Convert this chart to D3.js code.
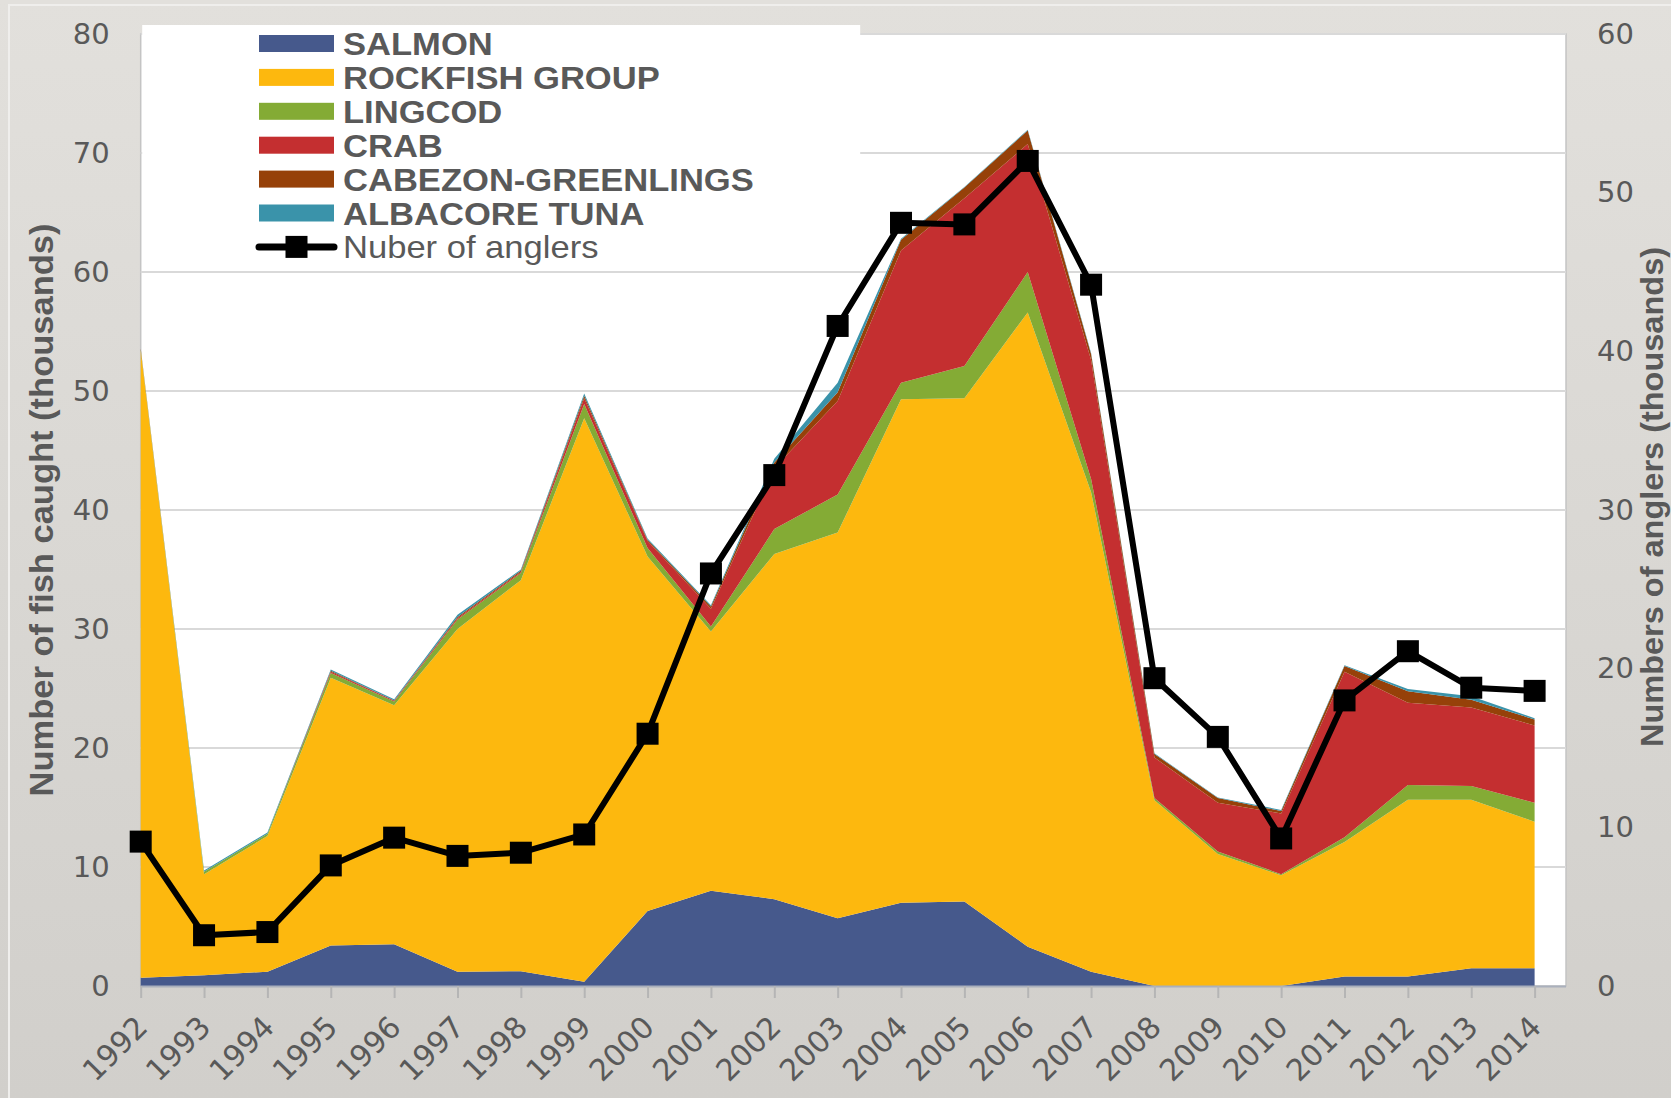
<!DOCTYPE html>
<html><head><meta charset="utf-8">
<script src="https://cdn.jsdelivr.net/npm/d3@7"></script>
<style>html,body{margin:0;padding:0;overflow:hidden;background:#d8d6d2;}</style>
</head><body>
<svg id="c" width="1671" height="1098"></svg>
<script>
const years = ["1992","1993","1994","1995","1996","1997","1998","1999","2000","2001","2002","2003","2004","2005","2006","2007","2008","2009","2010","2011","2012","2013","2014"];
const salmon   = [0.7,0.9,1.2,3.4,3.5,1.2,1.25,0.35,6.3,8.0,7.3,5.7,7.0,7.1,3.3,1.2,0,0,0,0.8,0.8,1.5,1.5];
const rockfish = [52.7,8.5,11.4,22.5,20.1,28.8,32.85,47.35,29.8,21.8,29.0,32.4,42.3,42.3,53.3,40.3,15.6,11.1,9.3,11.3,14.85,14.15,12.3];
const lingcod  = [0.1,0.2,0.2,0.4,0.3,0.8,0.6,1.2,0.7,0.4,2.1,3.2,1.4,2.7,3.4,1.1,0.2,0.2,0.1,0.4,1.25,1.15,1.6];
const crab     = [0,0,0,0.1,0.1,0.1,0.1,0.5,0.6,1.5,5.1,7.85,11.1,14.1,10.75,10.0,3.4,4.1,5.1,13.9,6.9,6.6,6.5];
const cabezon  = [0.1,0,0,0.1,0,0.1,0.1,0.2,0.1,0.2,0.5,0.75,0.9,0.9,1.15,0.5,0.3,0.4,0.2,0.5,0.96,0.66,0.5];
const albacore = [0,0.1,0.1,0.1,0.1,0.2,0.1,0.2,0.1,0.1,0.3,0.8,0.1,0.05,0.05,0.1,0.05,0.05,0.1,0.05,0.2,0.28,0.1];
const anglers  = [9.1,3.2,3.4,7.6,9.35,8.2,8.4,9.55,15.9,26.0,32.2,41.6,48.1,48.0,52.0,44.2,19.4,15.7,9.3,18.0,21.1,18.8,18.6];
const seriesNames = ["SALMON","ROCKFISH GROUP","LINGCOD","CRAB","CABEZON-GREENLINGS","ALBACORE TUNA"];
const seriesColors = ["#46598C","#FDB80E","#84AB35","#C42F30","#964109","#3A93AA"];
const lineName = "Nuber of anglers";
const leftTicks = [0,10,20,30,40,50,60,70,80];
const rightTicks = [0,10,20,30,40,50,60];
const leftTitle = "Number of fish caught (thousands)";
const rightTitle = "Numbers of anglers (thousands)";

const seriesData = [salmon, rockfish, lingcod, crab, cabezon, albacore];
const rows = years.map((y,i)=>{const o={year:y}; seriesNames.forEach((n,k)=>o[n]=seriesData[k][i]); return o;});

const svg = d3.select("#c");
const defs = svg.append("defs");
const grad = defs.append("linearGradient").attr("id","bg").attr("x1",0).attr("y1",0).attr("x2",0).attr("y2",1);
grad.append("stop").attr("offset","0%").attr("stop-color","#e2e0dc");
grad.append("stop").attr("offset","100%").attr("stop-color","#d1cfcb");
svg.append("rect").attr("width",1671).attr("height",1098).attr("fill","url(#bg)");
svg.append("rect").attr("x",9).attr("y",5).attr("width",1671).attr("height",1100)
  .attr("fill","none").attr("stroke","#efeeec").attr("stroke-width",2);

const L=140.7, R=1566, T=34, B=986;
const x = d3.scalePoint().domain(years).range([140.7,1534.6]);
const yL = d3.scaleLinear().domain([0,80]).range([B,T]);
const yR = d3.scaleLinear().domain([0,60]).range([B,T]);

// plot area
svg.append("rect").attr("x",L).attr("y",T).attr("width",R-L).attr("height",B-T)
  .attr("fill","#fff").attr("stroke","#c4c4c4").attr("stroke-width",1.5);

// gridlines
svg.append("g").selectAll("line").data(leftTicks.filter(d=>d>0)).join("line")
  .attr("x1",L).attr("x2",R).attr("y1",d=>yL(d)).attr("y2",d=>yL(d))
  .attr("stroke","#d9d9d9").attr("stroke-width",2);

// stacked areas
const stack = d3.stack().keys(seriesNames);
const stacked = stack(rows);
const area = d3.area().x((d,i)=>x(years[i])).y0(d=>yL(d[0])).y1(d=>yL(d[1]));
svg.append("g").selectAll("path").data(stacked).join("path")
  .attr("d",area).attr("fill",(d,i)=>seriesColors[i]);

// x axis
const xAxis = svg.append("g").attr("transform",`translate(0,${B})`)
  .call(d3.axisBottom(x).tickSize(12).tickPadding(0));
xAxis.select(".domain").attr("d",`M${L},0.5H${R}`).attr("stroke","#aab0bc").attr("stroke-width",2);
xAxis.selectAll(".tick line").attr("stroke","#b5b5b5").attr("stroke-width",2);
xAxis.selectAll(".tick text")
  .attr("x",0).attr("y",0).attr("dy",0)
  .attr("text-anchor","end")
  .attr("transform","translate(8,43) rotate(-45)")
  .attr("font-family","'DejaVu Sans', Verdana, sans-serif").attr("font-size",30).attr("fill","#595959");

// left axis
const lAxis = svg.append("g").attr("transform",`translate(${L},0)`)
  .call(d3.axisLeft(yL).tickValues(leftTicks).tickSize(0).tickPadding(31));
lAxis.select(".domain").remove();
lAxis.selectAll(".tick text").attr("font-family","'DejaVu Sans', Verdana, sans-serif").attr("font-size",29).attr("fill","#595959");

// right axis
const rAxis = svg.append("g").attr("transform",`translate(${R},0)`)
  .call(d3.axisRight(yR).tickValues(rightTicks).tickSize(0).tickPadding(31));
rAxis.select(".domain").remove();
rAxis.selectAll(".tick text").attr("font-family","'DejaVu Sans', Verdana, sans-serif").attr("font-size",29).attr("fill","#595959");

// anglers line
const line = d3.line().x((d,i)=>x(years[i])).y(d=>yR(d));
svg.append("path").datum(anglers).attr("d",line).attr("fill","none")
  .attr("stroke","#000").attr("stroke-width",6).attr("stroke-linejoin","round");
const ms = 22;
svg.append("g").selectAll("rect").data(anglers).join("rect")
  .attr("x",(d,i)=>x(years[i])-ms/2).attr("y",d=>yR(d)-ms/2)
  .attr("width",ms).attr("height",ms).attr("fill","#000");

// legend
const lg = svg.append("g");
lg.append("rect").attr("x",L+1.5).attr("y",25).attr("width",718).attr("height",236).attr("fill","#fff");
const rowY = i => 43.5 + i*33.9;
seriesNames.forEach((n,i)=>{
  lg.append("rect").attr("x",259).attr("y",rowY(i)-8.5).attr("width",75).attr("height",17).attr("fill",seriesColors[i]);
  lg.append("text").attr("transform",`translate(343,${rowY(i)+11.5}) scale(1.08,1)`)
    .attr("font-family","'Liberation Sans', Arial, sans-serif").attr("font-weight","bold")
    .attr("font-size",32).attr("fill","#595959").text(n);
});
const ly = rowY(6);
lg.append("line").attr("x1",259).attr("x2",334).attr("y1",ly).attr("y2",ly)
  .attr("stroke","#000").attr("stroke-width",7).attr("stroke-linecap","round");
lg.append("rect").attr("x",296.5-11).attr("y",ly-11).attr("width",22).attr("height",22).attr("fill","#000");
lg.append("text").attr("transform",`translate(343,${ly+11.5}) scale(1.08,1)`)
  .attr("font-family","'Liberation Sans', Arial, sans-serif")
  .attr("font-size",32).attr("fill","#595959").text(lineName);

// axis titles
svg.append("text").attr("transform","translate(53,510) rotate(-90)")
  .attr("text-anchor","middle").attr("font-family","'Liberation Sans', Arial, sans-serif")
  .attr("font-weight","bold").attr("font-size",33).attr("fill","#595959")
  .attr("textLength",573).attr("lengthAdjust","spacingAndGlyphs").text(leftTitle);
svg.append("text").attr("transform","translate(1663,497) rotate(-90)")
  .attr("text-anchor","middle").attr("font-family","'Liberation Sans', Arial, sans-serif")
  .attr("font-weight","bold").attr("font-size",32).attr("fill","#595959")
  .attr("textLength",500).attr("lengthAdjust","spacingAndGlyphs").text(rightTitle);
</script>
</body></html>
